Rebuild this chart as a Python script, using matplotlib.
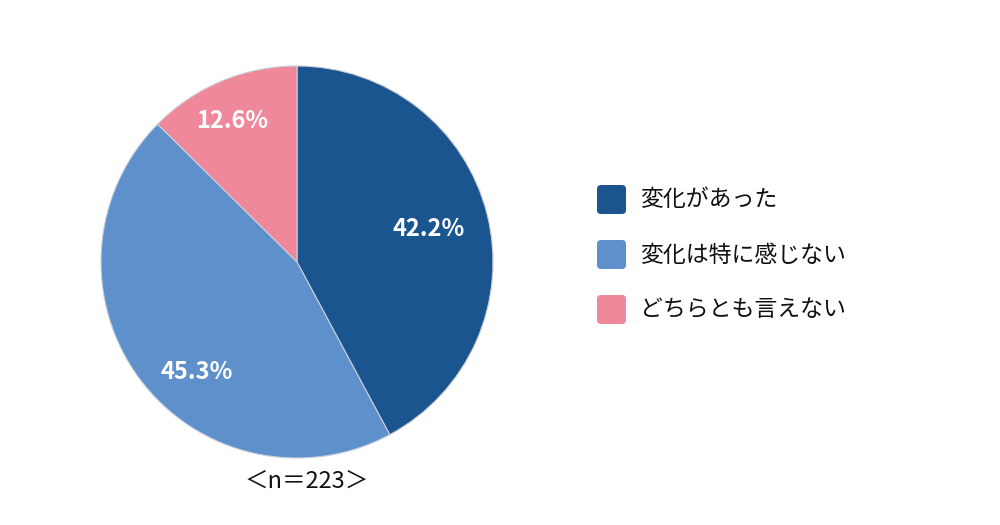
import numpy as np
import matplotlib.pyplot as plt
from matplotlib.patches import FancyBboxPatch

plt.rcParams['font.family'] = ['Noto Sans CJK JP', 'DejaVu Sans']

# data
categories = ['変化があった', '変化は特に感じない', 'どちらとも言えない']
values = [42.2, 45.3, 12.6]
colors = ['#1b5590', '#5e90cc', '#f0889b']
n_label = '＜n＝223＞'

fig = plt.figure(figsize=(10, 5.25), dpi=100)
ax = fig.add_axes([0.101, 0.1276, 0.392, 0.7467])

wedges, _ = ax.pie(values, colors=colors, startangle=90, counterclock=False,
                   radius=1.0,
                   wedgeprops=dict(edgecolor='#c9ced8', linewidth=0.8))
ax.set_xlim(-1, 1)
ax.set_ylim(-1, 1)
ax.set_aspect('equal')
ax.axis('off')

# percentage labels, placed along each wedge
label_r = [0.69, 0.76, 0.79]
angle_shift = [0, 11, 2]
for w, v, r, da in zip(wedges, values, label_r, angle_shift):
    ang = np.deg2rad((w.theta1 + w.theta2) / 2 + da)
    ax.text(r * np.cos(ang), r * np.sin(ang), f'{v:.1f}%',
            ha='center', va='center', color='white',
            fontsize=17, fontweight='bold')

fig.text(0.307, 0.083, n_label, ha='center', va='center', fontsize=17,
         color='#111111')

# legend
for i, (lab, c) in enumerate(zip(categories, colors)):
    yc = 1 - (200 + 55 * i) / 525
    box = FancyBboxPatch((0.597, yc - 14 / 525), 0.029, 29 / 525,
                         boxstyle='round,pad=0,rounding_size=0.004',
                         transform=fig.transFigure, facecolor=c,
                         edgecolor='none', mutation_aspect=1000 / 525)
    fig.patches.append(box)
    fig.text(0.640, yc, lab, ha='left', va='center', fontsize=16.5,
             color='#111111')

fig.savefig('out.png', dpi=100)
